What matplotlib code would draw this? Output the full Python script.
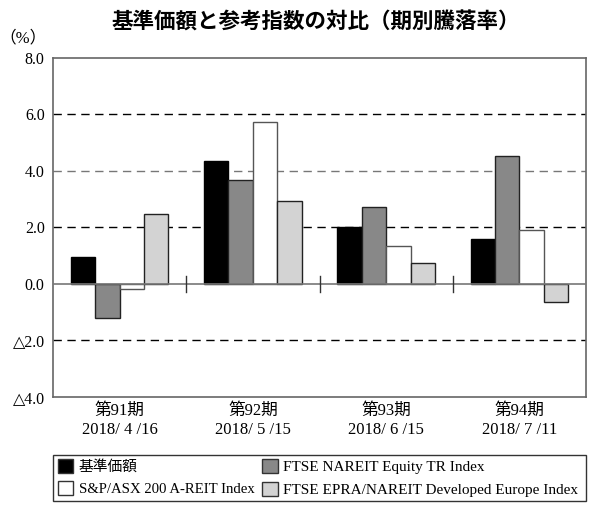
import matplotlib
matplotlib.use("Agg")
import matplotlib.pyplot as plt
from matplotlib.patches import Patch, Rectangle
import numpy as np

periods = ["第91期", "第92期", "第93期", "第94期"]
dates = ["2018/ 4 /16", "2018/ 5 /15", "2018/ 6 /15", "2018/ 7 /11"]
series_names = ["基準価額", "FTSE NAREIT Equity TR Index",
                "S&P/ASX 200 A-REIT Index", "FTSE EPRA/NAREIT Developed Europe Index"]
kijun = [0.96, 4.35, 2.00, 1.58]
nareit = [-1.22, 3.68, 2.70, 4.52]
asx = [-0.20, 5.73, 1.35, 1.91]
europe = [2.46, 2.94, 0.73, -0.65]
yticks = [8.0, 6.0, 4.0, 2.0, 0.0, -2.0, -4.0]
ytick_labels = ["8.0", "6.0", "4.0", "2.0", "0.0", "△2.0", "△4.0"]

colors = ["#000000", "#888888", "#ffffff", "#d3d3d3"]
edges = ["#000000", "#222222", "#555555", "#222222"]

serif = ["Liberation Serif", "DejaVu Serif", "Noto Sans CJK JP"]

fig = plt.figure(figsize=(5.89, 5.05), dpi=100)
ax = fig.add_axes([53/589, 1-397/505, 533/589, 339.5/505])

x = np.arange(len(periods))
w = 0.183
all_series = [kijun, nareit, asx, europe]
for i, vals in enumerate(all_series):
    ax.bar(x + (i - 1.5) * w, vals, width=w, color=colors[i],
           edgecolor=edges[i], linewidth=1.0, zorder=3)

ax.set_xlim(-0.5, 3.5)
ax.set_ylim(-4.0, 8.0)

# gridlines
for yv in [6.0, 4.0, 2.0, -2.0]:
    ax.axhline(yv, color="#000000" if yv != 4.0 else "#777777",
               linestyle=(0, (6, 4)), linewidth=1.0, zorder=1)
ax.axhline(0.0, color="#777777", linewidth=1.2, zorder=4)

# group separators on the zero line
for sx in [0.5, 1.5, 2.5]:
    ax.plot([sx, sx], [-0.28, 0.28], color="#333333", linewidth=1.0, zorder=4)

for s in ax.spines.values():
    s.set_color("#666666")
    s.set_linewidth(1.2)

ax.set_yticks(yticks)
ax.set_yticklabels(ytick_labels, family=serif, fontsize=11.5)
ax.tick_params(axis="y", length=0, pad=6)
ax.set_xticks(x)
ax.set_xticklabels([f"{p}\n{d}" for p, d in zip(periods, dates)],
                   family=serif, fontsize=12, linespacing=1.3)
ax.tick_params(axis="x", length=0, pad=4)

fig.text(316/589, 1-22/505, "基準価額と参考指数の対比（期別騰落率）",
         ha="center", va="center", fontsize=15.5, fontweight="bold",
         family=["Noto Sans CJK JP", "DejaVu Sans"])
fig.text(23/589, 1-38/505, "（%）", ha="center", va="center",
         fontsize=12, family=serif)

# legend: frame + two columns
fig.patches.append(Rectangle((53/589, 1-501/505), 533/589, 46/505,
                             transform=fig.transFigure, fill=False,
                             edgecolor="#333333", linewidth=1.0))
handles = [Patch(facecolor=colors[i], edgecolor="#333333", linewidth=1.0)
           for i in range(4)]
common = dict(loc="upper left", frameon=False, handlelength=1.05,
              handleheight=1.05, handletextpad=0.35, borderpad=0.0,
              labelspacing=0.5, borderaxespad=0.0)
leg1 = fig.legend([handles[0], handles[2]], [series_names[0], series_names[2]],
                  bbox_to_anchor=(58/589, 1-459/505),
                  prop={"family": serif, "size": 10.6}, **common)
leg2 = fig.legend([handles[1], handles[3]], [series_names[1], series_names[3]],
                  bbox_to_anchor=(262/589, 1-459/505),
                  prop={"family": serif, "size": 11.0}, **common)

fig.savefig("out.png", dpi=100)
